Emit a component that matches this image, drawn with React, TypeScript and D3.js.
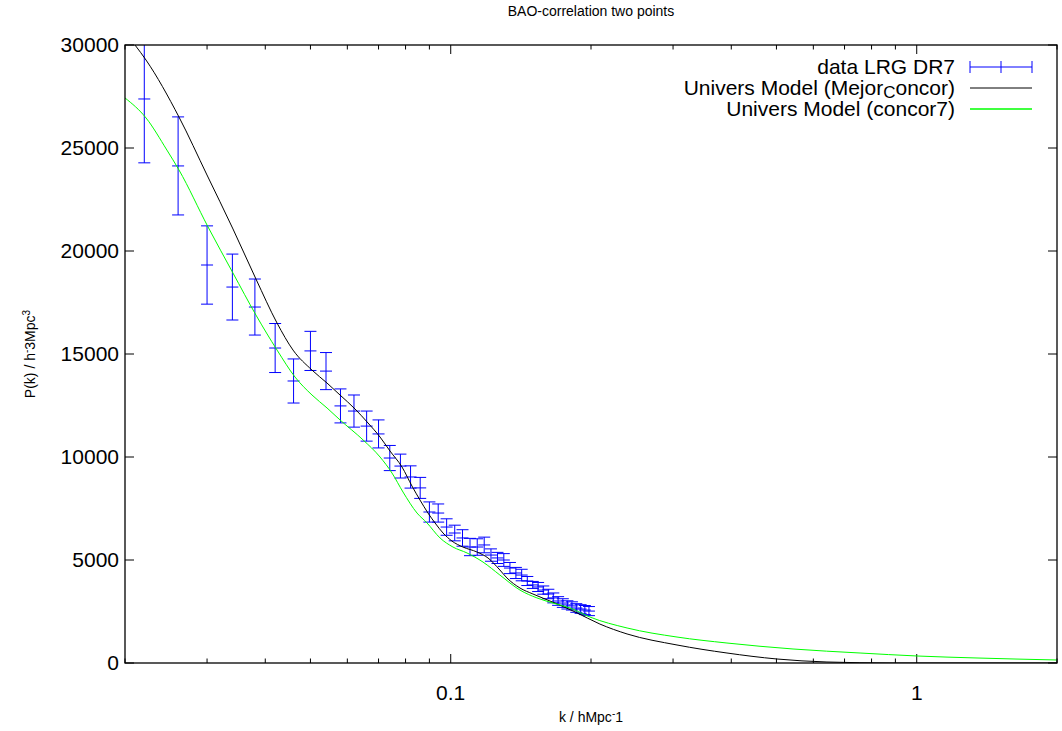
import React from "react";
import * as d3 from "d3";

const chartTitle = "BAO-correlation two points";

// data LRG DR7: k, P(k), error
const dataK = [0.022, 0.026, 0.030, 0.034, 0.038, 0.042, 0.046, 0.050, 0.054, 0.058,
  0.062, 0.066, 0.070, 0.074, 0.078, 0.082, 0.086, 0.090, 0.094, 0.098,
  0.102, 0.106, 0.110, 0.114, 0.118, 0.122, 0.126, 0.130, 0.134, 0.138,
  0.142, 0.146, 0.150, 0.154, 0.158, 0.162, 0.166, 0.170, 0.174, 0.178,
  0.182, 0.186, 0.190, 0.194, 0.198];
const dataP = [27380, 24130, 19320, 18250, 17280, 15290, 13690, 15150, 14170, 12480,
  12230, 11500, 11120, 9950, 9560, 9030, 8500, 7330, 7280, 6600,
  6310, 6070, 5630, 5630, 5730, 5240, 5100, 5000, 4610, 4370,
  4270, 3980, 3790, 3690, 3540, 3350, 3160, 3010, 2910, 2820,
  2770, 2670, 2620, 2570, 2520];
const dataErr = [3100, 2380, 1900, 1600, 1360, 1190, 1070, 950, 900, 825,
  780, 730, 680, 610, 580, 540, 510, 490, 440, 400,
  380, 400, 420, 400, 380, 300, 270, 310, 270, 270,
  280, 220, 170, 220, 200, 230, 240, 210, 210, 200,
  200, 210, 210, 220, 220];

// Univers Model (Mejor_concor)
const blackK = [0.02101, 0.02219, 0.02612, 0.02999, 0.0341, 0.0382, 0.0424, 0.04588, 0.05038, 0.05427,
  0.05786, 0.06233, 0.06646, 0.07052, 0.07408, 0.0786, 0.08258, 0.08592, 0.08938, 0.09253,
  0.09627, 0.1006, 0.1062, 0.1138, 0.1202, 0.1275, 0.132, 0.1408, 0.1501, 0.1674,
  0.1848, 0.209, 0.239, 0.3059, 0.3916, 0.5014, 0.6418, 0.889, 2.0];
const blackP = [30000, 29270, 26500, 23690, 21070, 18640, 16500, 15190, 14220, 13590,
  13010, 12330, 11650, 10970, 10290, 9515, 8590, 7910, 7280, 6800,
  6310, 5920, 5630, 5390, 5100, 4515, 4130, 3640, 3350, 2910,
  2480, 1890, 1410, 874, 485, 194, 49, 0, 0];

// Univers Model (concor7)
const greenK = [0.02, 0.02219, 0.0246, 0.02612, 0.03014, 0.0341, 0.0382, 0.0424, 0.04634, 0.05038,
  0.05427, 0.05786, 0.06484, 0.07052, 0.07482, 0.079, 0.08466, 0.08894, 0.09485, 0.1011,
  0.1084, 0.1173, 0.1275, 0.1408, 0.1531, 0.1658, 0.1803, 0.199, 0.239, 0.3059,
  0.3916, 0.5427, 0.7558, 1.0014, 1.347, 2.0];
const greenP = [27430, 26460, 24900, 23930, 21170, 18930, 16890, 15190, 13880, 13010,
  12380, 11800, 10830, 10000, 9220, 8300, 7280, 6800, 6070, 5630,
  5340, 4900, 4270, 3540, 3160, 2910, 2670, 2230, 1700, 1260,
  970, 680, 485, 340, 243, 146];

const xMajorTicks = [0.1, 1];
const xMinorTicks = [0.02, 0.03, 0.04, 0.05, 0.06, 0.07, 0.08, 0.09, 0.2, 0.3, 0.4, 0.5, 0.6, 0.7, 0.8, 0.9, 2];
const yTicks = [0, 5000, 10000, 15000, 20000, 25000, 30000];

const legendLabels = ["data LRG DR7", "Univers Model (Mejor", "C", "oncor)", "Univers Model (concor7)"];

const W = 1062, H = 731;
const L = 125, R = 1057, T = 45, B = 663;
const FONT = "'Liberation Sans', Arial, Helvetica, sans-serif";
const BLUE = "#0000ff";

export default function App() {
  const x = d3.scaleLog().domain([0.02, 2]).range([L, R]);
  const y = d3.scaleLinear().domain([0, 30000]).range([B, T]);
  const line = d3.line<[number, number]>()
    .x(d => x(d[0])).y(d => y(d[1])).curve(d3.curveMonotoneX);
  const blackPath = line(blackK.map((k, i) => [k, blackP[i]]) as [number, number][]) || "";
  const greenPath = line(greenK.map((k, i) => [k, greenP[i]]) as [number, number][]) || "";
  const cap = 6;
  const maj = 9, min = 4.5;
  const axisColor = "#000";

  return (
    <svg width={W} height={H} style={{ position: "absolute", left: 0, top: 0, background: "#fff" }}
      fontFamily={FONT}>
      <rect x={0} y={0} width={W} height={H} fill="#fff" />
      <defs>
        <clipPath id="plotclip">
          <rect x={L} y={T} width={R - L} height={B - T} />
        </clipPath>
      </defs>
      <text x={(L + R) / 2} y={16} fontSize={14} textAnchor="middle">{chartTitle}</text>

      {/* ticks */}
      {yTicks.map(t => (
        <g key={"y" + t}>
          <line x1={L} x2={L + maj} y1={y(t)} y2={y(t)} stroke={axisColor} />
          <line x1={R} x2={R - maj} y1={y(t)} y2={y(t)} stroke={axisColor} />
          <text x={L - 6} y={y(t) + 7} fontSize={21} textAnchor="end">{t}</text>
        </g>
      ))}
      {xMajorTicks.map(t => (
        <g key={"xm" + t}>
          <line x1={x(t)} x2={x(t)} y1={B} y2={B - maj} stroke={axisColor} />
          <line x1={x(t)} x2={x(t)} y1={T} y2={T + maj} stroke={axisColor} />
          <text x={x(t)} y={700} fontSize={21} textAnchor="middle">{t}</text>
        </g>
      ))}
      {xMinorTicks.map(t => (
        <g key={"xn" + t}>
          <line x1={x(t)} x2={x(t)} y1={B} y2={B - min} stroke={axisColor} />
          <line x1={x(t)} x2={x(t)} y1={T} y2={T + min} stroke={axisColor} />
        </g>
      ))}

      <g clipPath="url(#plotclip)">
        {dataK.map((k, i) => {
          const cx = x(k);
          const y0 = y(dataP[i] - dataErr[i]);
          const y1 = y(dataP[i] + dataErr[i]);
          const yc = y(dataP[i]);
          return (
            <g key={"d" + i} stroke={BLUE} strokeWidth={1}>
              <line x1={cx} x2={cx} y1={y0} y2={y1} />
              <line x1={cx - cap} x2={cx + cap} y1={y0} y2={y0} />
              <line x1={cx - cap} x2={cx + cap} y1={y1} y2={y1} />
              <line x1={cx - cap} x2={cx + cap} y1={yc} y2={yc} />
            </g>
          );
        })}
        <path d={blackPath} fill="none" stroke="#000" strokeWidth={1} />
        <path d={greenPath} fill="none" stroke="#00ff00" strokeWidth={1} />
      </g>

      <rect x={L} y={T} width={R - L} height={B - T} fill="none" stroke={axisColor} strokeWidth={1.3} />

      {/* legend */}
      <text x={955} y={74} fontSize={21} textAnchor="end">{legendLabels[0]}</text>
      <g stroke={BLUE} strokeWidth={1}>
        <line x1={970} x2={1032} y1={67} y2={67} />
        <line x1={970} x2={970} y1={61} y2={73} />
        <line x1={1032} x2={1032} y1={61} y2={73} />
        <line x1={1001} x2={1001} y1={61} y2={73} />
      </g>
      <text x={955} y={95} fontSize={21} textAnchor="end">
        {legendLabels[1]}
        <tspan fontSize={17} dy={3}>{legendLabels[2]}</tspan>
        <tspan dy={-3}>{legendLabels[3]}</tspan>
      </text>
      <line x1={970} x2={1032} y1={88} y2={88} stroke="#000" strokeWidth={1} />
      <text x={955} y={116} fontSize={21} textAnchor="end">{legendLabels[4]}</text>
      <line x1={970} x2={1032} y1={109} y2={109} stroke="#00ff00" strokeWidth={1.5} />

      {/* axis labels */}
      <text x={(L + R) / 2} y={722} fontSize={14} textAnchor="middle">
        k / hMpc<tspan dy={-5} fontSize={10}>-</tspan><tspan dy={5}>1</tspan>
      </text>
      <text transform={`translate(35, ${(T + B) / 2}) rotate(-90)`} fontSize={14} textAnchor="middle">
        P(k) / h<tspan dy={-5} fontSize={10}>-</tspan><tspan dy={5}>3Mpc</tspan><tspan dy={-5} fontSize={10}>3</tspan>
      </text>
    </svg>
  );
}
